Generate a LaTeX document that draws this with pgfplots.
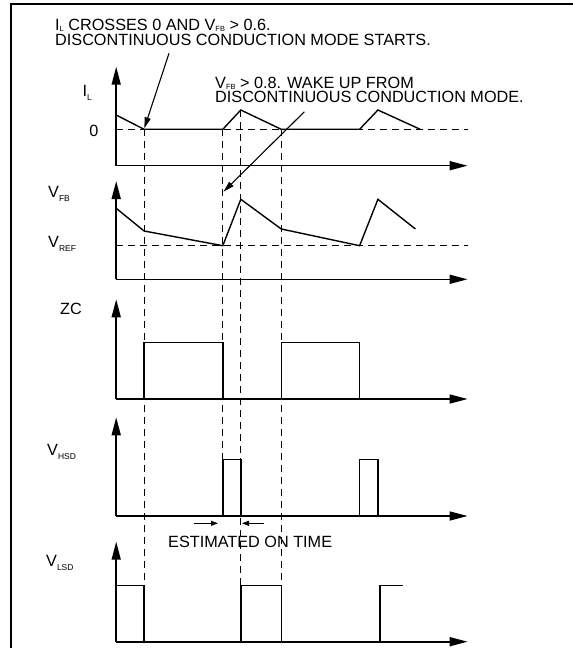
\documentclass[border=0pt]{standalone}
\usepackage{fontspec}
\setmainfont{Liberation Sans}
\usepackage{pgfplots}
\pgfplotsset{compat=1.18}
\usetikzlibrary{arrows.meta}

% subscripts of the signal labels (lowered) and of the notes (on the baseline)
\newcommand{\sub}[1]{\raisebox{-4bp}[0pt][0pt]{\fontsize{8.5}{9}\selectfont #1}}
\newcommand{\subn}[1]{\raisebox{-0.5bp}[0pt][0pt]{\fontsize{7.5}{8}\selectfont #1}}
\newcommand{\txt}{\fontsize{16.3}{15}\selectfont}

\pgfplotsset{
  panel/.style={
    scale only axis, clip=false,
    width=351.4bp, xmin=0, xmax=351.4,
    ymin=0,
    axis lines=left,
    axis line style={line width=1.6pt, -{Triangle[length=18bp,width=9bp]}},
    xtick=\empty, ytick=\empty,
    anchor=south west,
  },
  sig/.style={black, line width=1.4pt, mark=none},
  dsh/.style={black, line width=1.1pt, dash pattern=on 7bp off 5bp, mark=none},
}

\begin{document}
\begin{tikzpicture}
\path[use as bounding box] (0,0) rectangle (573bp,-648bp);

% overlay axis in picture coordinates (for guides, annotations, labels)
\begin{axis}[scale only axis, hide axis, clip=false,
  width=573bp, height=648bp, xmin=0, xmax=573, ymin=0, ymax=648,
  y dir=reverse, at={(0,0)}, anchor=north west]
  % frame
  \draw[line width=2bp] (axis cs:11,648) -- (axis cs:11,4) -- (axis cs:573,4);
  % vertical guide lines
  \addplot[dsh] coordinates {(144.1,129.3) (144.1,585.7)};
  \addplot[dsh] coordinates {(222.8,129.3) (222.8,459.3)};
  \addplot[dsh] coordinates {(240.8,110) (240.8,585.7)};
  \addplot[dsh] coordinates {(281.3,129.3) (281.3,585.7)};
  % annotation arrows
  \draw[line width=1.1pt, -{Triangle[length=11bp,width=6bp]}] (axis cs:169,53.3) -- (axis cs:144.3,128.3);
  \draw[line width=1.1pt, -{Triangle[length=11bp,width=6bp]}] (axis cs:304.4,111.7) -- (axis cs:223.5,191.7);
  \draw[line width=1pt, -{Triangle[length=7bp,width=5bp]}] (axis cs:194,523.3) -- (axis cs:218,523.3);
  \draw[line width=1pt, -{Triangle[length=7bp,width=5bp]}] (axis cs:264,523.3) -- (axis cs:242,523.3);
  % annotation texts
  \node[anchor=base west, inner sep=0] at (axis cs:55,30.7) {\txt I\subn{L} CROSSES 0 AND V\subn{FB} > 0.6.};
  \node[anchor=base west, inner sep=0] at (axis cs:55,45) {\txt DISCONTINUOUS CONDUCTION MODE STARTS.};
  \node[anchor=base west, inner sep=0] at (axis cs:215,88.5) {\txt V\subn{FB} > 0.8. WAKE UP FROM};
  \node[anchor=base west, inner sep=0] at (axis cs:215,102.5) {\txt DISCONTINUOUS CONDUCTION MODE.};
  \node[anchor=base west, inner sep=0] at (axis cs:168,547.7) {\txt ESTIMATED ON TIME};
  % signal labels
  \node[anchor=base west, inner sep=0] at (axis cs:82.5,96.7) {\txt I\sub{L}};
  \node[anchor=base east, inner sep=0] at (axis cs:98.5,136.5) {\txt 0};
  \node[anchor=base west, inner sep=0] at (axis cs:48,197.9) {\txt V\sub{FB}};
  \node[anchor=base west, inner sep=0] at (axis cs:48,247.5) {\txt V\sub{REF}};
  \node[anchor=base west, inner sep=0] at (axis cs:60,314.3) {\txt ZC};
  \node[anchor=base west, inner sep=0] at (axis cs:47,455) {\txt V\sub{HSD}};
  \node[anchor=base west, inner sep=0] at (axis cs:46,566.7) {\txt V\sub{LSD}};
\end{axis}

% I_L
\begin{axis}[panel, at={(116.2bp,-165.7bp)}, height=99bp, ymax=99]
  \addplot[dsh] coordinates {(0,36.4) (351.4,36.4)};
  \addplot[sig] coordinates {(0,50.7) (27.9,36.4) (106.6,36.4) (124.6,55.7) (165.1,36.4) (243.4,36.4) (261.7,55.7) (304,36.4)};
\end{axis}

% V_FB
\begin{axis}[panel, at={(116.2bp,-279.3bp)}, height=98.3bp, ymax=98.3]
  \addplot[dsh] coordinates {(0,33.6) (351.4,33.6)};
  \addplot[sig] coordinates {(0,71) (27.9,48.3) (106.6,33.6) (124.6,80) (165.1,50.3) (243.4,33.6) (261.7,80) (299.2,50.3)};
\end{axis}

% ZC
\begin{axis}[panel, at={(116.2bp,-399bp)}, height=99.7bp, ymax=99.7]
  \addplot[sig] coordinates {(27.9,0) (27.9,56.3) (106.6,56.3) (106.6,0)};
  \addplot[sig] coordinates {(165.1,0) (165.1,56.3) (243.4,56.3) (243.4,0)};
\end{axis}

% V_HSD
\begin{axis}[panel, at={(116.2bp,-516bp)}, height=98.7bp, ymax=98.7]
  \addplot[sig] coordinates {(106.6,0) (106.6,56.7) (124.6,56.7) (124.6,0)};
  \addplot[sig] coordinates {(243.4,0) (243.4,56.7) (261.7,56.7) (261.7,0)};
\end{axis}

% V_LSD
\begin{axis}[panel, at={(116.2bp,-641.7bp)}, height=100bp, ymax=100]
  \addplot[sig] coordinates {(0,56) (27.9,56) (27.9,0)};
  \addplot[sig] coordinates {(124.6,0) (124.6,56) (165.1,56) (165.1,0)};
  \addplot[sig] coordinates {(263.6,0) (263.6,56) (287.1,56)};
\end{axis}
\end{tikzpicture}
\end{document}
